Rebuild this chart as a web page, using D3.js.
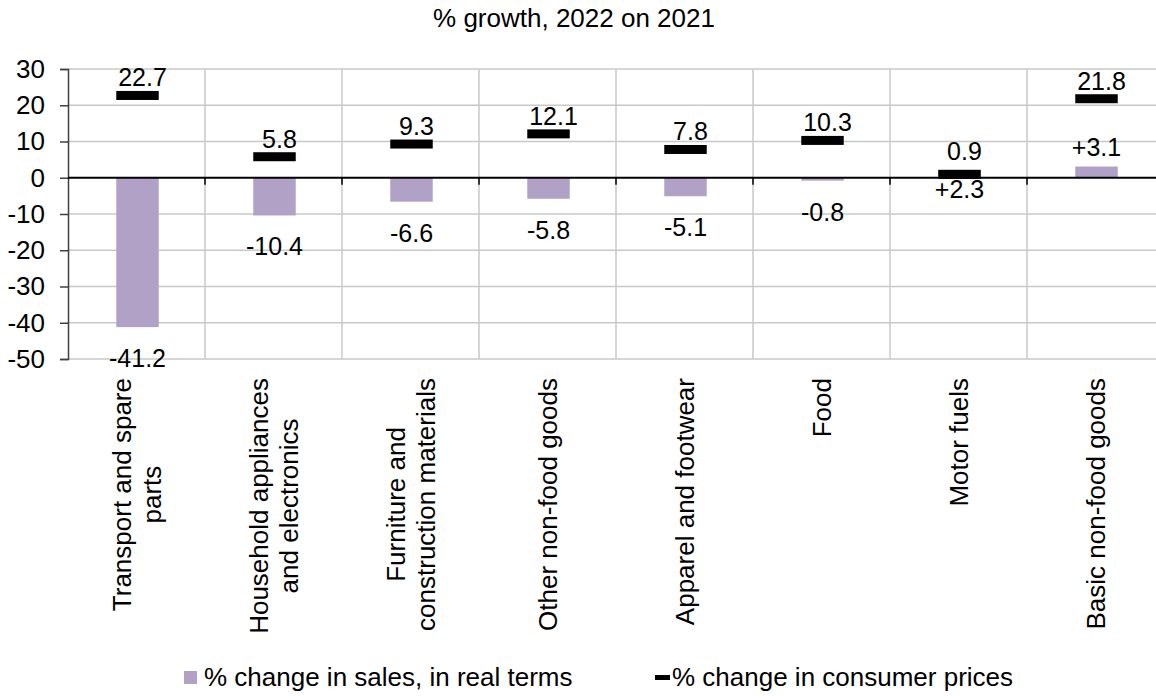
<!DOCTYPE html>
<html>
<head>
<meta charset="utf-8">
<script src="https://cdn.jsdelivr.net/npm/d3@7"></script>
<style>
  body { margin: 0; background: #fff; }
  text { font-family: "Liberation Sans", Arial, sans-serif; fill: #000; }
</style>
</head>
<body>
<svg id="chart" width="1156" height="696"></svg>
<script>
// categories (line breaks as in the original axis labels)
var categories = [
  ["Transport and spare", "parts"],
  ["Household appliances", "and electronics"],
  ["Furniture and", "construction materials"],
  ["Other non-food goods"],
  ["Apparel and footwear"],
  ["Food"],
  ["Motor fuels"],
  ["Basic non-food goods"]
];
var salesReal = [-41.2, -10.4, -6.6, -5.8, -5.1, -0.8, 2.3, 3.1];
var prices = [22.7, 5.8, 9.3, 12.1, 7.8, 10.3, 0.9, 21.8];
var yTicks = [-50, -40, -30, -20, -10, 0, 10, 20, 30];
var seriesNames = ["% change in sales, in real terms", "% change in consumer prices"];

// plain hyphen for negatives, like the original
function fmt(d) { return d.toFixed(1); }

var svg = d3.select("#chart");

// scales
var x = d3.scaleBand()
  .domain(d3.range(categories.length))
  .range([68, 1164])
  .paddingInner(0).paddingOuter(0);
var y = d3.scaleLinear().domain([-50, 30]).range([359, 69]);

var barW = x.bandwidth() * 0.31;
var purple = "#b2a1c7";

// title
svg.append("text")
  .attr("x", 574).attr("y", 27)
  .attr("text-anchor", "middle")
  .style("font-size", "26px")
  .text("% growth, 2022 on 2021");

// horizontal gridlines
svg.append("g")
  .selectAll("line")
  .data(yTicks.filter(function(d) { return d !== 0; }))
  .enter().append("line")
  .attr("x1", x.range()[0]).attr("x2", x.range()[1])
  .attr("y1", function(d) { return y(d); })
  .attr("y2", function(d) { return y(d); })
  .attr("stroke", "#c8c8c8").attr("stroke-width", 1.5);

// vertical gridlines between categories
svg.append("g")
  .selectAll("line")
  .data(d3.range(1, categories.length + 1))
  .enter().append("line")
  .attr("x1", function(i) { return x.range()[0] + i * x.step(); })
  .attr("x2", function(i) { return x.range()[0] + i * x.step(); })
  .attr("y1", y(30)).attr("y2", y(-50))
  .attr("stroke", "#c8c8c8").attr("stroke-width", 1.5);

// y axis
var yAxis = svg.append("g")
  .attr("transform", "translate(68,0)")
  .call(d3.axisLeft(y).tickValues(yTicks).tickSize(8).tickPadding(15)
    .tickFormat(function(d) { return String(d); }));
yAxis.select(".domain").attr("stroke", "#404040").attr("stroke-width", 1.5);
yAxis.selectAll(".tick line").attr("stroke", "#404040").attr("stroke-width", 1.5);
yAxis.selectAll(".tick text")
  .style("font-size", "26px")
  .style("font-family", "Liberation Sans, Arial, sans-serif")
  .attr("fill", "#000");

// bars: sales in real terms
svg.append("g")
  .selectAll("rect")
  .data(salesReal)
  .enter().append("rect")
  .attr("x", function(d, i) { return x(i) + x.bandwidth() / 2 - barW / 2 + 1; })
  .attr("width", barW)
  .attr("y", function(d) { return y(Math.max(0, d)); })
  .attr("height", function(d) { return Math.abs(y(d) - y(0)); })
  .attr("fill", purple);

// zero line with category ticks
svg.append("line")
  .attr("x1", 68).attr("x2", x.range()[1])
  .attr("y1", y(0)).attr("y2", y(0))
  .attr("stroke", "#000").attr("stroke-width", 2);
svg.append("g")
  .selectAll("line")
  .data(d3.range(1, categories.length + 1))
  .enter().append("line")
  .attr("x1", function(i) { return x.range()[0] + i * x.step(); })
  .attr("x2", function(i) { return x.range()[0] + i * x.step(); })
  .attr("y1", y(0)).attr("y2", y(0) + 7)
  .attr("stroke", "#000").attr("stroke-width", 1.5);

// price markers
var markH = 9;
svg.append("g")
  .selectAll("rect")
  .data(prices)
  .enter().append("rect")
  .attr("x", function(d, i) { return x(i) + x.bandwidth() / 2 - barW / 2 + 1; })
  .attr("width", barW)
  .attr("y", function(d) { return y(d) - markH / 2; })
  .attr("height", markH)
  .attr("fill", "#000");

// price labels
svg.append("g")
  .selectAll("text")
  .data(prices)
  .enter().append("text")
  .attr("x", function(d, i) { return x(i) + x.bandwidth() / 2 + 6; })
  .attr("y", function(d) { return Math.min(y(d) - 9, y(0) - 18); })
  .attr("text-anchor", "middle")
  .style("font-size", "25px")
  .text(fmt);

// sales labels
svg.append("g")
  .selectAll("text")
  .data(salesReal)
  .enter().append("text")
  .attr("x", function(d, i) { return x(i) + x.bandwidth() / 2 + 1; })
  .attr("y", function(d, i) {
    // bar hidden under the price marker -> label goes under the axis
    if (d > 0 && Math.abs(d - prices[i]) < 3) return y(0) + 20;
    return d < 0 ? y(d) + 40 : y(d) - 11;
  })
  .attr("text-anchor", "middle")
  .style("font-size", "25px")
  .text(function(d) { return (d > 0 ? "+" : "") + fmt(d); });

// category labels, rotated
var catG = svg.append("g")
  .selectAll("g")
  .data(categories)
  .enter().append("g")
  .attr("transform", function(d, i) {
    return "translate(" + (x(i) + x.bandwidth() / 2) + ",378) rotate(-90)";
  });
var lineH = 30;
catG.each(function(lines) {
  var g = d3.select(this);
  var t = g.append("text").style("font-size", "26px").attr("text-anchor", "middle");
  lines.forEach(function(l, j) {
    t.append("tspan")
      .attr("x", 0)
      .attr("y", (j - (lines.length - 1) / 2) * lineH + 9)
      .text(l);
  });
  var maxLen = 0;
  t.selectAll("tspan").each(function() {
    maxLen = Math.max(maxLen, this.getComputedTextLength());
  });
  t.selectAll("tspan").attr("x", -maxLen / 2);
});

// legend
var leg = svg.append("g");
leg.append("rect")
  .attr("x", 184).attr("y", 671).attr("width", 13).attr("height", 13)
  .attr("fill", purple);
leg.append("text")
  .attr("x", 204).attr("y", 686)
  .style("font-size", "26px")
  .text(seriesNames[0]);
leg.append("rect")
  .attr("x", 655).attr("y", 675).attr("width", 15).attr("height", 5)
  .attr("fill", "#000");
leg.append("text")
  .attr("x", 672).attr("y", 686)
  .style("font-size", "26px")
  .text(seriesNames[1]);
</script>
</body>
</html>
